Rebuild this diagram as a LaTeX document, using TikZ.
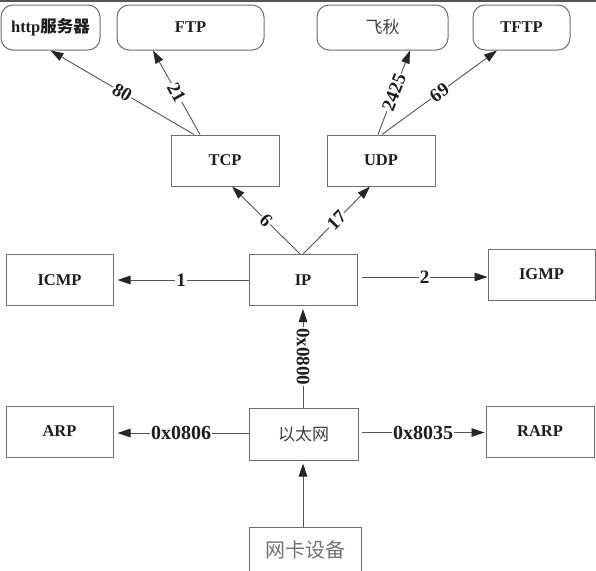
\documentclass[tikz,border=0pt]{standalone}
\usepackage{fontspec}
\setmainfont{Liberation Serif}
\newfontfamily\cjk{Noto Sans CJK SC}
\usetikzlibrary{arrows.meta}
\definecolor{boxgray}{HTML}{6E6E6E}
\definecolor{linegray}{HTML}{555555}
\definecolor{txt}{HTML}{1E1E1E}
\begin{document}
\begin{tikzpicture}[x=1pt,y=-1pt,
  box/.style={draw=boxgray, line width=1pt, minimum width=#1, minimum height=51pt, inner sep=0pt,
    font=\fontsize{16.5}{18}\selectfont\bfseries, text=txt},
  rbox/.style={box=#1, rounded corners=12pt, minimum height=45pt},
  conn/.style={draw=linegray, line width=0.9pt, -{Triangle[length=13pt,width=8.5pt,color=black!85]}},
  lab/.style={fill=white, inner sep=1pt, font=\fontsize{19}{20}\selectfont\bfseries, text=txt},
  cjkt/.style={font=\fontsize{17}{18}\selectfont\cjk, text=black!75}
]
\useasboundingbox (0,0) rectangle (596,570);
\clip (0,0) rectangle (596,570);
\fill[white] (0,0) rectangle (596,570);
\fill[linegray] (0,0) rectangle (596,2);

% top row
\node[rbox=99pt] (http) at (50.5,27.5) {http{\cjk 服务器}};
\node[rbox=147pt] (ftp) at (190.5,27.5) {FTP};
\node[rbox=131pt, cjkt] (fq) at (382.5,27.5) {飞秋};
\node[rbox=97pt] (tftp) at (521.5,27.5) {TFTP};

% transport
\node[box=108pt] (tcp) at (225,160.5) {TCP};
\node[box=108pt] (udp) at (381,160.5) {UDP};

% network
\node[box=107pt] (icmp) at (59.5,280) {ICMP};
\node[box=108pt] (ip) at (303,280) {IP};
\node[box=107pt] (igmp) at (541.5,274.5) {IGMP};

% link
\node[box=107pt] (arp) at (59.5,431.5) {ARP};
\node[box=109pt, minimum height=52pt, cjkt] (eth) at (303.5,434) {以太网};
\node[box=108pt] (rarp) at (540,431.5) {RARP};

% device
\node[box=112pt, minimum height=46pt, font=\fontsize{20}{22}\selectfont\cjk, text=black!55] (nic) at (305,550) {网卡设备};

% edges
\draw[conn] ([xshift=-31pt]tcp.north) -- node[lab, sloped] {80} (http.south);
\draw[conn] ([xshift=-25pt]tcp.north) -- node[lab, sloped] {21} ([xshift=-37.5pt]ftp.south);
\draw[conn] ([xshift=-3pt]udp.north) -- node[lab, sloped] {2425} ([xshift=27.5pt]fq.south);
\draw[conn] ([xshift=1pt]udp.north) -- node[lab, sloped] {69} ([xshift=-24.5pt]tftp.south);

\draw[conn] ([xshift=-3pt]ip.north) -- node[lab, sloped] {6} ([xshift=7pt]tcp.south);
\draw[conn] (ip.north) -- node[lab, sloped] {17} ([xshift=-11pt]udp.south);

\draw[conn, shorten >=4pt] (ip.west) -- node[lab] {1} (icmp.east);
\draw[conn] ([yshift=3pt,xshift=4pt]ip.east) -- node[lab] {2} ([yshift=-2.5pt]igmp.west);

\draw[conn, shorten >=3pt] ([xshift=-0.5pt]eth.north) -- node[lab, rotate=-90] {0x0800} (ip.south);
\draw[conn, shorten >=4pt] ([yshift=1pt]eth.west) -- node[lab, font=\fontsize{20}{22}\selectfont\bfseries] {0x0806} ([yshift=-1.5pt]arp.east);
\draw[conn] ([yshift=1.5pt,xshift=3pt]eth.east) -- node[lab, font=\fontsize{20}{22}\selectfont\bfseries] {0x8035} ([yshift=-1pt,xshift=-1pt]rarp.west);

\draw[conn, shorten >=3pt] ([xshift=-2pt]nic.north) -- ([xshift=-0.5pt]eth.south);
\end{tikzpicture}
\end{document}
